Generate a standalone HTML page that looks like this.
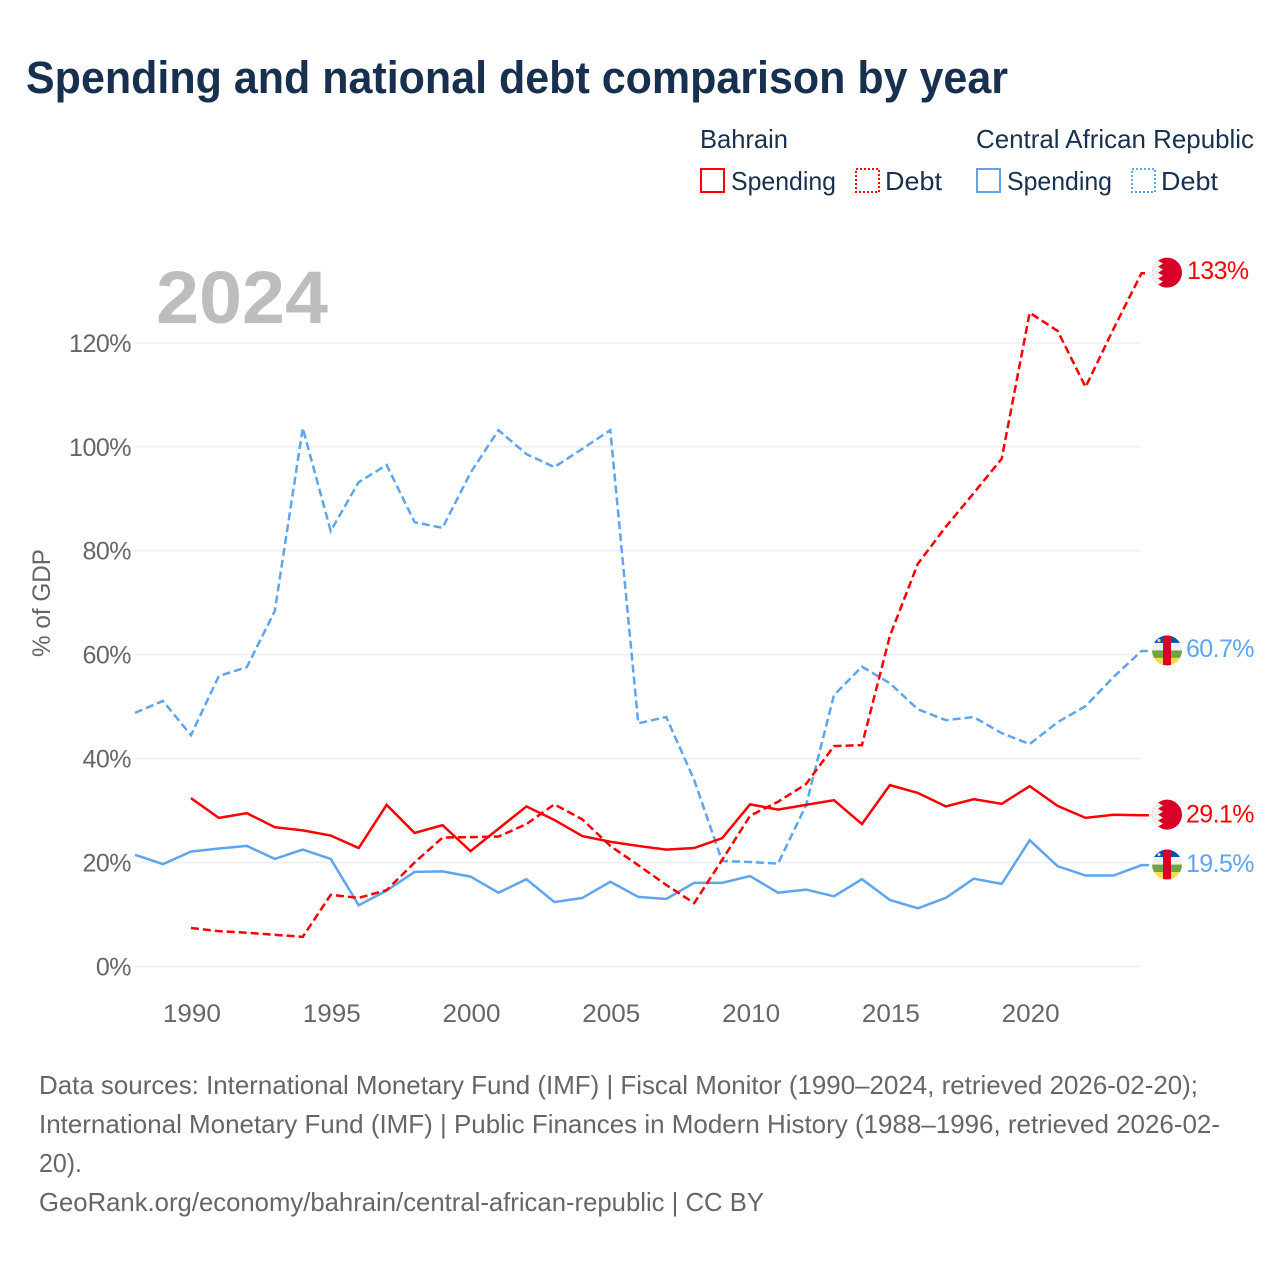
<!DOCTYPE html>
<html lang="en">
<head>
<meta charset="utf-8">
<title>Spending and national debt comparison by year</title>
<style>
html,body{margin:0;padding:0;background:#fff;}
svg{display:block;font-family:"Liberation Sans",sans-serif;}
</style>
</head>
<body>
<svg id="chart" xmlns="http://www.w3.org/2000/svg" width="1280" height="1280" viewBox="0 0 1280 1280">
  <rect x="0" y="0" width="1280" height="1280" fill="#ffffff"/>
  <text x="26" y="93" font-size="45" font-weight="700" fill="#18304f" textLength="982" lengthAdjust="spacingAndGlyphs">Spending and national debt comparison by year</text>

  <g font-size="26" fill="#18304f">
    <text x="700" y="148" textLength="88" lengthAdjust="spacingAndGlyphs">Bahrain</text>
    <text x="976" y="148" textLength="278" lengthAdjust="spacingAndGlyphs">Central African Republic</text>
    <g>
      <rect x="701" y="169" width="23" height="23" fill="none" stroke="#ff0000" stroke-width="2"/>
      <text x="731" y="190" textLength="105" lengthAdjust="spacingAndGlyphs">Spending</text>
    </g>
    <g>
      <rect x="856" y="169" width="23" height="23" fill="none" stroke="#ff0000" stroke-width="2" stroke-dasharray="2 2"/>
      <text x="885" y="190" textLength="57" lengthAdjust="spacingAndGlyphs">Debt</text>
    </g>
    <g>
      <rect x="977" y="169" width="23" height="23" fill="none" stroke="#5da5ee" stroke-width="2"/>
      <text x="1007" y="190" textLength="105" lengthAdjust="spacingAndGlyphs">Spending</text>
    </g>
    <g>
      <rect x="1132" y="169" width="23" height="23" fill="none" stroke="#5da5ee" stroke-width="2" stroke-dasharray="2 2"/>
      <text x="1161" y="190" textLength="57" lengthAdjust="spacingAndGlyphs">Debt</text>
    </g>
  </g>

  <text x="156" y="323" font-size="74" font-weight="700" fill="#bdbdbd" textLength="172" lengthAdjust="spacingAndGlyphs">2024</text>

  <g id="grid"></g>
  <g id="y-axis"></g>
  <g id="x-axis"></g>
  <text transform="translate(50,603) rotate(-90)" text-anchor="middle" font-size="25" fill="#666666" textLength="108" lengthAdjust="spacingAndGlyphs">% of GDP</text>
  <g id="series"></g>
  <g id="end-labels"></g>

  <defs>
    <clipPath id="flag-clip"><circle cx="0" cy="0" r="15"/></clipPath>
  </defs>

  <g font-size="26" fill="#666666">
    <text x="39" y="1094" textLength="1159" lengthAdjust="spacingAndGlyphs">Data sources: International Monetary Fund (IMF) | Fiscal Monitor (1990–2024, retrieved 2026-02-20);</text>
    <text x="39" y="1133" textLength="1181" lengthAdjust="spacingAndGlyphs">International Monetary Fund (IMF) | Public Finances in Modern History (1988–1996, retrieved 2026-02-</text>
    <text x="39" y="1172" textLength="43" lengthAdjust="spacingAndGlyphs">20).</text>
    <text x="39" y="1211" textLength="725" lengthAdjust="spacingAndGlyphs">GeoRank.org/economy/bahrain/central-african-republic | CC BY</text>
  </g>
</svg>

<script>
const years = [1988,1989,1990,1991,1992,1993,1994,1995,1996,1997,1998,1999,2000,2001,2002,2003,2004,2005,2006,2007,2008,2009,2010,2011,2012,2013,2014,2015,2016,2017,2018,2019,2020,2021,2022,2023,2024];
const bahrainSpending = [null,null,32.4,28.6,29.5,26.8,26.2,25.2,22.8,31.1,25.7,27.2,22.2,26.5,30.8,28.2,25.1,24.0,23.2,22.5,22.8,24.7,31.2,30.2,31.1,32.0,27.4,34.9,33.4,30.8,32.2,31.3,34.7,30.9,28.6,29.2,29.1];
const bahrainDebt = [null,null,7.4,6.8,6.5,6.1,5.7,13.8,13.2,14.7,20.0,24.8,24.9,25.0,27.4,31.2,28.3,23.2,19.5,15.7,12.2,20.5,29.0,31.7,35.1,42.4,42.6,63.6,77.5,84.6,91.1,97.7,125.8,122.3,111.5,122.7,133.4];
const carSpending = [21.5,19.7,22.1,22.7,23.2,20.7,22.5,20.7,11.8,14.6,18.2,18.3,17.3,14.2,16.8,12.4,13.2,16.3,13.4,13.0,16.1,16.1,17.4,14.2,14.8,13.5,16.8,12.8,11.2,13.2,16.9,15.9,24.3,19.3,17.5,17.5,19.5];
const carDebt = [48.8,51.1,44.5,55.9,57.6,68.4,103.6,83.8,93.2,96.5,85.5,84.4,95.0,103.2,98.6,96.1,99.6,103.2,46.8,48.0,35.9,20.3,20.1,19.8,31.0,52.2,57.7,54.5,49.5,47.4,48.0,44.9,42.8,47.0,50.1,55.7,60.7];
const yTickValues = [0,20,40,60,80,100,120];
const xTickValues = [1990,1995,2000,2005,2010,2015,2020];

const SVG_NS = 'http://www.w3.org/2000/svg';
const plot = { left: 135, right: 1141.5, zeroY: 966.5, pxPerUnit: 5.197, leaderEnd: 1149 };
const RED = '#ff0000';
const BLUE = '#5da5ee';

function xScale(year) {
  return plot.left + (year - years[0]) * (plot.right - plot.left) / (years[years.length - 1] - years[0]);
}
function yScale(value) {
  return plot.zeroY - value * plot.pxPerUnit;
}
function make(tag, attrs, parent) {
  const el = document.createElementNS(SVG_NS, tag);
  for (const k in attrs) el.setAttribute(k, attrs[k]);
  parent.appendChild(el);
  return el;
}
function linePoints(values) {
  const pts = [];
  values.forEach(function (v, i) {
    if (v !== null) pts.push(xScale(years[i]).toFixed(2) + ',' + yScale(v).toFixed(2));
  });
  pts.push(plot.leaderEnd + ',' + yScale(values[values.length - 1]).toFixed(2));
  return pts.join(' ');
}

const gridGroup = document.getElementById('grid');
const yAxisGroup = document.getElementById('y-axis');
yTickValues.forEach(function (t) {
  const gl = make('line', { x1: plot.left, x2: plot.right, y1: yScale(t), y2: yScale(t), stroke: '#eeeeee', 'stroke-width': 1.5 }, gridGroup);
  
  
  const lb = make('text', { x: 131, y: yScale(t) + 9, 'text-anchor': 'end', 'font-size': 25, 'letter-spacing': -0.5, fill: '#666666' }, yAxisGroup);
  
  
  lb.textContent = t + '%';
});

const xAxisGroup = document.getElementById('x-axis');
xTickValues.forEach(function (t) {
  const lb = make('text', { x: xScale(t) + 1, y: 1022, 'text-anchor': 'middle', 'font-size': 25, fill: '#666666', textLength: 58, lengthAdjust: 'spacingAndGlyphs' }, xAxisGroup);
  
  
  lb.textContent = String(t);
});

const seriesGroup = document.getElementById('series');
function addLine(values, color, dashed, name) {
  const attrs = { points: linePoints(values), fill: 'none', stroke: color, 'stroke-width': 2.5, 'stroke-linejoin': 'miter' };
  if (dashed) attrs['stroke-dasharray'] = '8 4';
  const line = make('polyline', attrs, seriesGroup);
  
  
}
addLine(carDebt, BLUE, true, 'line-car-debt');
addLine(carSpending, BLUE, false, 'line-car-spending');
addLine(bahrainDebt, RED, true, 'line-bahrain-debt');
addLine(bahrainSpending, RED, false, 'line-bahrain-spending');

const endGroup = document.getElementById('end-labels');
function drawBahrainFlag(g) {
  const c = make('circle', { cx: 0, cy: 0, r: 15, fill: '#d80027' }, g);
  
  
  const w = make('polygon', { points: '-16,-16 -3,-15 -9,-12 -4,-9 -9,-6 -4,-3 -9,0 -4,3 -9,6 -4,9 -9,12 -3,15 -16,16', fill: '#f0f0f0', 'clip-path': 'url(#flag-clip)' }, g);
  
  
}
function drawCarFlag(g) {
  const stripes = [['#0052b4', -15], ['#f0f0f0', -7.5], ['#6da544', 0], ['#ffda44', 7.5]];
  stripes.forEach(function (s, i) {
    const r = make('rect', { x: -15, y: s[1], width: 30, height: 7.5, fill: s[0], 'clip-path': 'url(#flag-clip)' }, g);
    
    
  });
  const v = make('rect', { x: -4, y: -15, width: 8, height: 30, fill: '#d80027', 'clip-path': 'url(#flag-clip)' }, g);
  
  
  const st = make('circle', { cx: -8, cy: -10, r: 1.6, fill: '#ffda44' }, g);
  
  
}
function addEndLabel(values, color, drawFlag, name, labelX, labelShift) {
  const last = values[values.length - 1];
  const y = yScale(last);
  const g = make('g', { transform: 'translate(1167,' + (y - 0.6).toFixed(2) + ')' }, endGroup);
  
  
  drawFlag(g);
  const t = make('text', { x: labelX, y: y + labelShift, 'font-size': 25, 'letter-spacing': -0.6, fill: color }, endGroup);
  
  
  t.textContent = last.toPrecision(3) + '%';
}
addEndLabel(bahrainDebt, RED, drawBahrainFlag, 'bahrain-debt', 1187, 6);
addEndLabel(carDebt, BLUE, drawCarFlag, 'car-debt', 1186, 6);
addEndLabel(bahrainSpending, RED, drawBahrainFlag, 'bahrain-spending', 1186, 7);
addEndLabel(carSpending, BLUE, drawCarFlag, 'car-spending', 1186, 7);
</script>
</body>
</html>
